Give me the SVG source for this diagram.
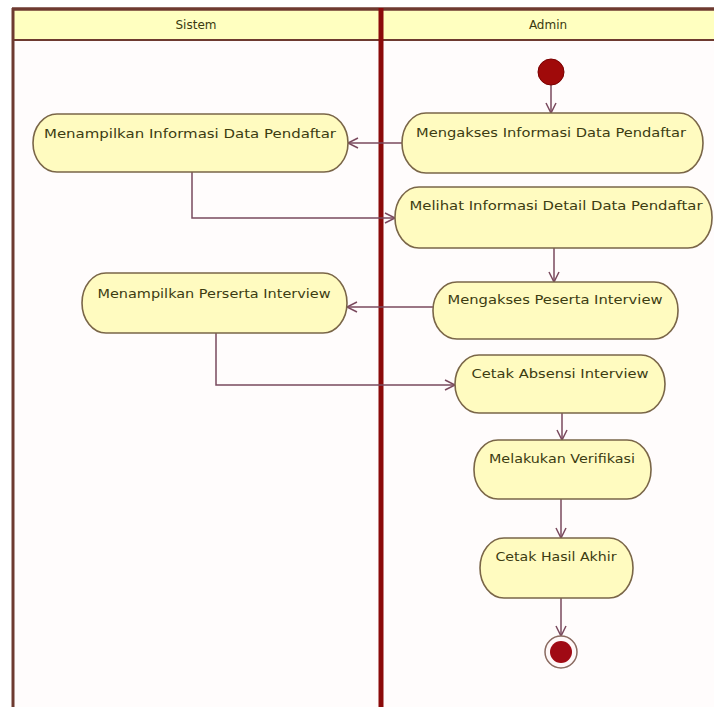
<svg xmlns="http://www.w3.org/2000/svg" width="714" height="707" viewBox="0 0 714 707">
  <defs>
    <style>
      .lane-bg { fill: #fffcfc; }
      .header { fill: #ffffc0; }
      .frame { stroke: #6e3a30; fill: none; }
      .divider { stroke: #8b0a0a; stroke-width: 5; fill: none; }
      .hdr-text { font-family: "DejaVu Sans", Verdana, sans-serif; font-size: 12px; fill: #3a3a10; text-anchor: middle; }
      .action rect { fill: #fffbc0; stroke: #7a6648; stroke-width: 1.6; }
      .action text { font-family: "DejaVu Sans", Verdana, sans-serif; font-size: 13px; fill: #3c3c12; text-anchor: middle; }
      .flow { stroke: #7a4a5e; stroke-width: 1.5; fill: none; marker-end: url(#open-arrow); }
      .start { fill: #a00a0a; stroke: #7a0000; stroke-width: 1; }
    </style>
    <marker id="open-arrow" markerUnits="userSpaceOnUse" markerWidth="14" markerHeight="14" viewBox="0 0 14 14" refX="12" refY="7" orient="auto">
      <path d="M2,2 L12,7 L2,12" fill="none" stroke="#7a4a5e" stroke-width="1.5"/>
    </marker>
  </defs>

  <!-- page background -->
  <rect x="0" y="0" width="714" height="707" fill="#ffffff"/>
  <rect class="lane-bg" x="13" y="40" width="701" height="667"/>

  <!-- swimlane header band -->
  <g id="lanes">
    <rect class="header" x="13" y="9" width="701" height="31"/>
    <line class="frame" x1="12" y1="9" x2="714" y2="9" stroke-width="3.5"/>
    <line class="frame" x1="12" y1="40" x2="714" y2="40" stroke-width="2"/>
    <line class="frame" x1="13" y1="8" x2="13" y2="707" stroke-width="3"/>
    <line class="divider" x1="381" y1="8" x2="381" y2="707"/>
    <text class="hdr-text" x="196" y="29">Sistem</text>
    <text class="hdr-text" x="548" y="29">Admin</text>
  </g>

  <!-- connectors -->
  <g id="connectors">
    <path class="flow" d="M551,85 L551,113"/>
    <path class="flow" d="M402,143 L348,143"/>
    <path class="flow" d="M192,172 L192,218 L395,218"/>
    <path class="flow" d="M554,248 L554,282"/>
    <path class="flow" d="M433,307 L347,307"/>
    <path class="flow" d="M216,333 L216,385 L455,385"/>
    <path class="flow" d="M562,413 L562,440"/>
    <path class="flow" d="M561,499 L561,538"/>
    <path class="flow" d="M561,598 L561,636"/>
  </g>

  <!-- initial node -->
  <g id="start">
    <circle class="start" cx="551" cy="72" r="13"/>
  </g>

  <!-- actions -->
  <g id="menampilkan-informasi" class="action">
    <rect x="33" y="114" width="315" height="58" rx="24" ry="29"/>
    <text x="190" y="138" textLength="292" lengthAdjust="spacingAndGlyphs">Menampilkan Informasi Data Pendaftar</text>
  </g>
  <g id="mengakses-informasi" class="action">
    <rect x="402" y="113" width="301" height="60" rx="24" ry="30"/>
    <text x="551" y="137" textLength="270" lengthAdjust="spacingAndGlyphs">Mengakses Informasi Data Pendaftar</text>
  </g>
  <g id="melihat-detail" class="action">
    <rect x="395" y="187" width="317" height="61" rx="24" ry="30"/>
    <text x="556" y="210" textLength="293" lengthAdjust="spacingAndGlyphs">Melihat Informasi Detail Data Pendaftar</text>
  </g>
  <g id="menampilkan-peserta" class="action">
    <rect x="82" y="273" width="265" height="60" rx="24" ry="30"/>
    <text x="214" y="298" textLength="233" lengthAdjust="spacingAndGlyphs">Menampilkan Perserta Interview</text>
  </g>
  <g id="mengakses-peserta" class="action">
    <rect x="433" y="282" width="245" height="57" rx="24" ry="28"/>
    <text x="555" y="304" textLength="215" lengthAdjust="spacingAndGlyphs">Mengakses Peserta Interview</text>
  </g>
  <g id="cetak-absensi" class="action">
    <rect x="455" y="355" width="210" height="58" rx="24" ry="29"/>
    <text x="560" y="378" textLength="177" lengthAdjust="spacingAndGlyphs">Cetak Absensi Interview</text>
  </g>
  <g id="verifikasi" class="action">
    <rect x="474" y="440" width="177" height="59" rx="24" ry="29"/>
    <text x="562" y="463" textLength="146" lengthAdjust="spacingAndGlyphs">Melakukan Verifikasi</text>
  </g>
  <g id="cetak-hasil" class="action">
    <rect x="480" y="538" width="153" height="60" rx="24" ry="30"/>
    <text x="556" y="561" textLength="121" lengthAdjust="spacingAndGlyphs">Cetak Hasil Akhir</text>
  </g>

  <!-- final node -->
  <g id="end">
    <circle cx="561" cy="652" r="16" fill="#fff8f8" stroke="#8a6a60" stroke-width="1.5"/>
    <circle cx="561" cy="652" r="11" fill="#a00a14"/>
  </g>
</svg>
